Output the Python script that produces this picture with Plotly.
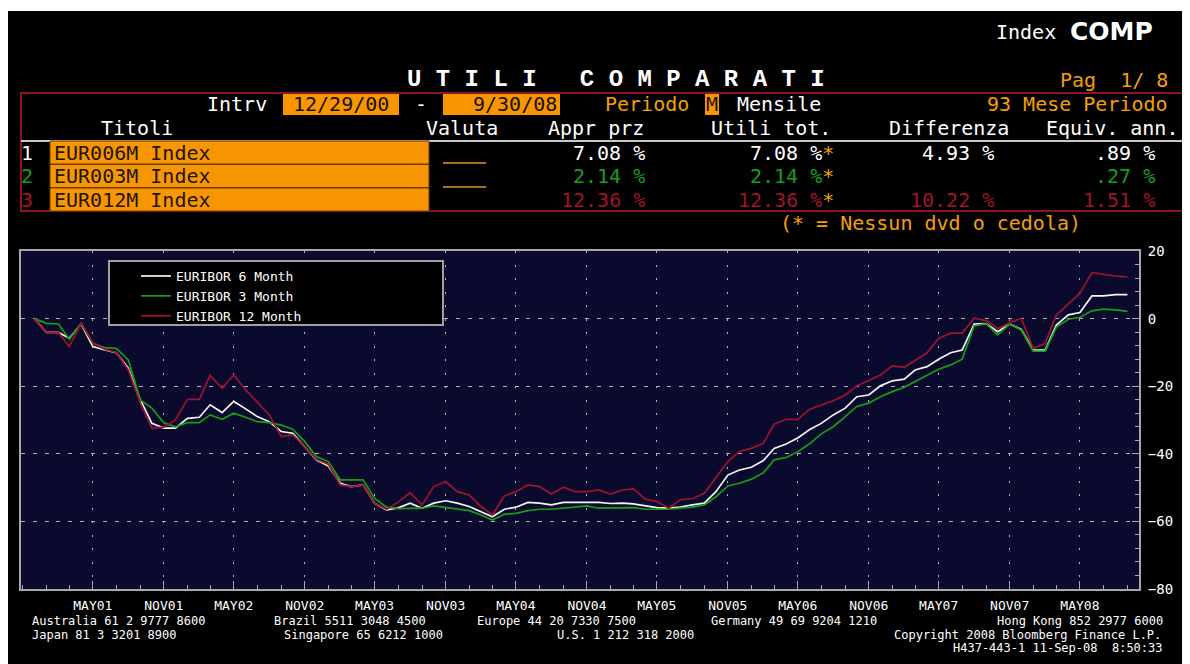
import plotly.graph_objects as go
import pandas as pd

# ---------------- data ----------------
months = pd.date_range("2000-12-01", "2008-09-01", freq="MS")  # 94 monthly points

eur6m = [0, -4.1, -4.1, -5.8, -1.6, -8.3, -9.3, -10.1, -14.7, -24.0,
         -31.0, -32.4, -32.4, -29.5, -29.2, -25.5, -27.8, -24.5, -26.7, -29.0,
         -30.5, -33.4, -33.9, -37.9, -41.8, -43.6, -48.7, -49.7, -49.2, -54.6,
         -56.6, -56.0, -54.6, -56.1, -54.6, -53.9, -54.6, -55.6, -57.1, -58.6,
         -56.4, -55.8, -54.4, -54.6, -55.1, -54.4, -54.4, -54.4, -54.4, -54.7,
         -54.6, -54.8, -55.4, -55.9, -56.1, -55.8, -55.1, -54.6, -51.2, -46.3,
         -44.8, -44.0, -42.0, -38.4, -37.1, -35.3, -32.8, -31.0, -28.5, -26.5,
         -23.1, -22.6, -19.9, -18.4, -17.9, -15.2, -14.2, -12.0, -10.1, -9.3,
         -1.6, -1.5, -3.9, -1.6, -3.2, -9.3, -9.3, -1.9, 1.1, 1.8,
         6.7, 6.7, 7.1, 7.08]

eur3m = [0, -1.4, -1.6, -6.1, -1.4, -7.3, -8.6, -8.8, -12.2, -24.1,
         -26.5, -30.8, -32.0, -30.8, -30.8, -28.5, -29.8, -28.0, -29.2, -30.5,
         -30.8, -31.5, -32.7, -36.4, -40.8, -42.3, -47.7, -47.7, -47.7, -53.2,
         -55.8, -56.2, -56.2, -56.1, -55.4, -55.8, -56.4, -56.8, -58.1, -59.6,
         -57.9, -57.6, -56.8, -56.4, -56.4, -56.1, -55.8, -55.4, -56.1, -56.0,
         -55.9, -55.9, -56.4, -56.4, -56.4, -56.1, -55.8, -55.1, -52.7, -49.5,
         -48.7, -47.5, -45.6, -41.8, -41.1, -39.4, -37.0, -34.1, -32.0, -29.0,
         -26.0, -25.0, -23.1, -21.6, -20.3, -18.6, -16.7, -15.0, -13.7, -12.0,
         -2.2, -1.5, -4.8, -1.6, -3.4, -9.6, -9.6, -2.6, -0.2, 0.4,
         2.3, 2.8, 2.6, 2.14]

eur12m = [0, -4.1, -4.1, -8.3, -1.4, -7.1, -9.1, -10.0, -15.2, -25.0,
          -32.4, -32.1, -30.0, -23.9, -23.9, -16.8, -20.6, -16.7, -21.1, -24.8,
          -28.5, -34.9, -34.4, -37.9, -41.6, -43.1, -49.2, -49.7, -49.2, -54.6,
          -56.4, -54.3, -51.5, -55.1, -49.7, -48.2, -51.2, -52.2, -55.6, -58.1,
          -52.5, -51.2, -49.2, -49.7, -51.9, -49.9, -51.2, -51.2, -50.7, -51.9,
          -50.7, -50.4, -53.4, -54.1, -56.1, -53.6, -53.3, -51.7, -47.2, -42.3,
          -39.3, -38.4, -36.9, -31.2, -29.8, -29.8, -26.8, -25.5, -24.3, -22.6,
          -19.9, -18.3, -16.7, -14.0, -14.4, -12.4, -10.1, -5.8, -4.3, -4.3,
          0.1, -0.6, -3.0, -1.2, 0.1, -8.8, -7.3, 1.1, 4.5, 7.5,
          13.6, 13.1, 12.6, 12.36]

series_names = ["EURIBOR 6 Month", "EURIBOR 3 Month", "EURIBOR 12 Month"]

tick_dates = pd.date_range("2001-05-01", "2008-05-01", freq="6MS")
tick_labels = ["MAY01", "NOV01", "MAY02", "NOV02", "MAY03", "NOV03", "MAY04", "NOV04",
               "MAY05", "NOV05", "MAY06", "NOV06", "MAY07", "NOV07", "MAY08"]
y_ticks = [20, 0, -20, -40, -60, -80]

tickers = ["EUR006M Index", "EUR003M Index", "EUR012M Index"]
appr_prz = ["7.08 %", "2.14 %", "12.36 %"]
utili_tot = ["7.08 %", "2.14 %", "12.36 %"]
differenza = ["4.93 %", "", "10.22 %"]
equiv_ann = [".89 %", ".27 %", "1.51 %"]

assert len(eur6m) == len(eur3m) == len(eur12m) == len(months)

# ---------------- style ----------------
PAGE_W, PAGE_H = 1190, 664
OFF = 8                      # default page (body) margin of the html page
W, H = PAGE_W - OFF, PAGE_H - OFF
L, R, T, B = 21, 1139, 251, 589   # plot frame, in page pixels
ORANGE = "#f79600"
OTEXT = "#f5a000"
GREEN = "#14a014"
RED = "#a3122c"
WHITE = "#f4f4f4"
MONO = "DejaVu Sans Mono"
GRID = "#b4b4b4"
FRAME = "#a8a8a8"
row_colors = ["#ffffff", GREEN, RED]
line_colors = [WHITE, GREEN, RED]


def PX(x):
    return (x - L) / (R - L)


def PY(y):
    return (B - y) / (B - T)


fig = go.Figure()
for name, vals, col in zip(series_names, [eur6m, eur3m, eur12m], line_colors):
    fig.add_trace(go.Scatter(x=months, y=vals, mode="lines", name=name,
                             line=dict(color=col, width=1.7)))

annotations = []


def ann(text, x, y, anchor="left", color="#ffffff", size=20, family=MONO, weight="normal"):
    annotations.append(dict(text=text, x=PX(x), y=PY(y), xref="paper", yref="paper",
                            xanchor=anchor, yanchor="middle", showarrow=False,
                            font=dict(family=family, size=size, color=color, weight=weight)))


shapes = []


def rect(x0, y0, x1, y1, fill=None, line=None, lw=0, layer="above"):
    shapes.append(dict(type="rect", xref="paper", yref="paper",
                       x0=PX(x0), x1=PX(x1), y0=PY(y0), y1=PY(y1),
                       fillcolor=fill if fill else "rgba(0,0,0,0)",
                       line=dict(color=line if line else "rgba(0,0,0,0)", width=lw),
                       layer=layer))


def hline(x0, x1, y, color, lw):
    shapes.append(dict(type="line", xref="paper", yref="paper",
                       x0=PX(x0), x1=PX(x1), y0=PY(y), y1=PY(y),
                       line=dict(color=color, width=lw), layer="above"))


# white strip at top of the page (body margin gives the rest)
rect(0, OFF, PAGE_W, 11, fill="#ffffff")

# header
ann("Index", 1058, 32, anchor="right", size=20)
ann("COMP", 1068, 32, anchor="left", size=25, family="DejaVu Sans", weight="bold")
ann("U T I L I   C O M P A R A T I", 616, 79, anchor="center", size=24,
    family="Liberation Mono", weight="bold")
ann("Pag  1/ 8", 1170, 80, anchor="right", color=OTEXT)

# table frame
rect(21, 93, 1184, 211, line="#8c1424", lw=2)
hline(21, 1184, 141, "#c8c8c8", 2)

# interval row
ann("Intrv", 269, 104, anchor="right")
rect(283, 94, 399, 115, fill=ORANGE)
ann("12/29/00", 341, 104, anchor="center", color="#1a1000")
ann("-", 421, 104, anchor="center")
rect(443, 94, 560, 115, fill=ORANGE)
ann("9/30/08", 559, 104, anchor="right", color="#1a1000")
ann("Periodo", 691, 104, anchor="right", color=OTEXT)
rect(705, 94, 719, 115, fill=ORANGE)
ann("M", 712, 104, anchor="center", color="#1a1000")
ann("Mensile", 735, 104, anchor="left")
ann("93 Mese Periodo", 1170, 104, anchor="right", color=OTEXT)

# header row
ann("Titoli", 137, 128, anchor="center")
ann("Valuta", 500, 128, anchor="right")
ann("Appr prz", 646, 128, anchor="right")
ann("Utili tot.", 833, 128, anchor="right")
ann("Differenza", 1011, 128, anchor="right")
ann("Equiv. ann.", 1180, 128, anchor="right")

# data rows
row_tops = [141, 164.5, 188]
row_bots = [164, 187.5, 211]
for k in range(3):
    yc = (row_tops[k] + row_bots[k]) / 2 + 0.5
    c = row_colors[k]
    ann(str(k + 1), 27, yc, anchor="center", color=c)
    rect(50, row_tops[k], 429, row_bots[k], fill=ORANGE, line="#6a3a00", lw=1)
    ann(tickers[k], 52, yc, anchor="left", color="#1e1400")
    ann(appr_prz[k], 647, yc, anchor="right", color=c)
    ann(utili_tot[k] + "<span style='color:%s'>*</span>" % OTEXT, 836, yc, anchor="right", color=c)
    if differenza[k]:
        ann(differenza[k], 996, yc, anchor="right", color=c)
    ann(equiv_ann[k], 1157, yc, anchor="right", color=c)
hline(443, 486, 163, "#e09a20", 1.5)
hline(443, 486, 187, "#e09a20", 1.5)
ann("(* = Nessun dvd o cedola)", 930, 223, anchor="center", color=OTEXT)

# legend box
rect(109, 261, 443, 325, fill="#000000", line="#a0a0a0", lw=2)

# footer
FS = 12
ann("Australia 61 2 9777 8600", 30, 621, size=FS)
ann("Brazil 5511 3048 4500", 272, 621, size=FS)
ann("Europe 44 20 7330 7500", 475, 621, size=FS)
ann("Germany 49 69 9204 1210", 709, 621, size=FS)
ann("Hong Kong 852 2977 6000", 1165, 621, anchor="right", size=FS)
ann("Japan 81 3 3201 8900", 30, 634.5, size=FS)
ann("Singapore 65 6212 1000", 282, 634.5, size=FS)
ann("U.S. 1 212 318 2000", 555, 634.5, size=FS)
ann("Copyright 2008 Bloomberg Finance L.P.", 1163, 634.5, anchor="right", size=FS)
ann("H437-443-1 11-Sep-08  8:50:33", 1165, 648, anchor="right", size=FS)

fig.update_layout(
    width=W, height=H,
    margin=dict(l=L - OFF, r=PAGE_W - R, t=T - OFF, b=PAGE_H - B, pad=0),
    paper_bgcolor="#000000",
    plot_bgcolor="#0a0a2e",
    showlegend=True,
    legend=dict(x=PX(136), y=PY(261), xanchor="left", yanchor="top",
                bgcolor="rgba(0,0,0,0)", borderwidth=0,
                font=dict(family=MONO, size=13, color="#ffffff"),
                tracegroupgap=0),
    xaxis=dict(type="date", range=["2000-10-27", "2008-10-01"],
               tickmode="array", tickvals=tick_dates, ticktext=tick_labels,
               ticks="inside", ticklen=8, tickwidth=1, tickcolor=FRAME,
               showgrid=True, gridcolor=GRID, gridwidth=1, griddash="2px,11.52px",
               showline=True, linecolor=FRAME, linewidth=2, mirror=True,
               zeroline=False, ticklabelstandoff=3,
               tickfont=dict(family=MONO, size=13, color="#ffffff"),
               minor=dict(ticks="inside", dtick="M2", tick0="2001-01-01",
                          ticklen=4, tickcolor=FRAME, showgrid=False)),
    yaxis=dict(range=[-80, 20], side="right",
               tickmode="array", tickvals=y_ticks,
               ticks="inside", ticklen=7, tickwidth=1, tickcolor=FRAME,
               showgrid=True, gridcolor=GRID, gridwidth=1, griddash="4px,7.75px",
               showline=True, linecolor=FRAME, linewidth=2, mirror=True,
               zeroline=False, ticklabelstandoff=4,
               tickfont=dict(family=MONO, size=14, color="#ffffff"),
               minor=dict(ticks="inside", dtick=4, tick0=0, ticklen=4,
                          tickcolor=FRAME, showgrid=False)),
    annotations=annotations,
    shapes=shapes,
)

fig.write_html("out.html")
